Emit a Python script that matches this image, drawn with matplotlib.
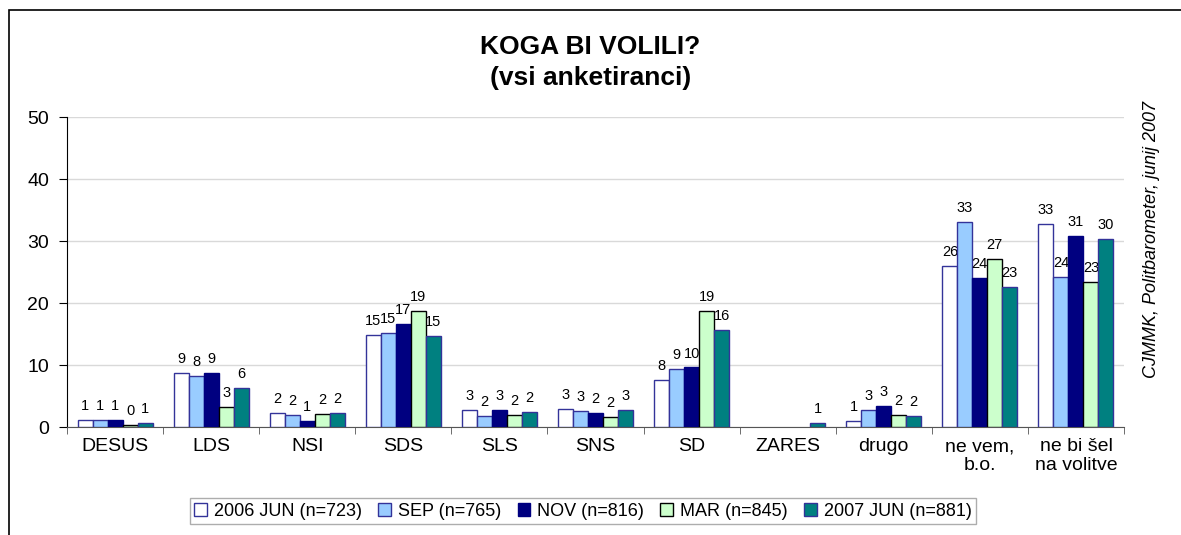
import numpy as np
import matplotlib.pyplot as plt
from matplotlib.patches import Rectangle

plt.rcParams['font.family'] = ['Liberation Sans', 'DejaVu Sans']

# Data
categories = ["DESUS", "LDS", "NSI", "SDS", "SLS", "SNS", "SD", "ZARES",
              "drugo", "ne vem,\nb.o.", "ne bi šel\nna volitve"]
series_names = ["2006 JUN (n=723)", "SEP (n=765)", "NOV (n=816)",
                "MAR (n=845)", "2007 JUN (n=881)"]
jun06 = [1.1, 8.7, 2.3, 14.8, 2.7, 2.9, 7.6, np.nan, 1.0, 26.0, 32.7]
sep06 = [1.1, 8.2, 1.9, 15.2, 1.8, 2.6, 9.3, np.nan, 2.7, 33.0, 24.2]
nov06 = [1.1, 8.7, 0.9, 16.6, 2.7, 2.2, 9.6, np.nan, 3.4, 24.1, 30.8]
mar07 = [0.4, 3.2, 2.1, 18.7, 2.0, 1.6, 18.7, np.nan, 2.0, 27.1, 23.4]
jun07 = [0.7, 6.3, 2.3, 14.7, 2.4, 2.7, 15.6, 0.7, 1.8, 22.6, 30.4]
all_series = [jun06, sep06, nov06, mar07, jun07]

face_colors = ["#FFFFFF", "#99CCFF", "#000080", "#CCFFCC", "#008080"]
edge_colors = ["#333399", "#333399", "#000080", "#000000", "#333399"]

fig = plt.figure(figsize=(11.81, 5.35), dpi=100)
ax = fig.add_axes([67 / 1181, 1 - 427 / 535, (1124 - 67) / 1181, 310 / 535])

# outer frame (cropped on right and bottom)
fig.patches.append(Rectangle((9 / 1181, -0.1), 1.2, 1 - 10 / 535 + 0.1,
                             transform=fig.transFigure, fill=False,
                             edgecolor="black", linewidth=1.2))

x = np.arange(len(categories))
bw = 0.156
for i, (vals, name) in enumerate(zip(all_series, series_names)):
    pos = x + (i - 2) * bw
    v = np.array(vals, dtype=float)
    ax.bar(pos, v, width=bw, color=face_colors[i],
           edgecolor=edge_colors[i], linewidth=1.0, label=name, zorder=3)
    for px, py in zip(pos, v):
        if not np.isnan(py):
            ax.annotate("%.0f" % py, (px, py), xytext=(0, 5),
                        textcoords="offset points", ha="center", va="bottom",
                        fontsize=10.5)

ax.set_ylim(0, 50)
ax.set_xlim(-0.5, len(categories) - 0.5)
ax.set_yticks(np.arange(0, 51, 10))
ax.yaxis.grid(True, color="#D9D9D9", linewidth=1.0, zorder=0)
ax.set_axisbelow(True)

ax.set_xticks(x)
ax.set_xticklabels(categories, fontsize=14, linespacing=1.15)
ax.set_xticks(np.arange(-0.5, len(categories), 1.0), minor=True)
ax.tick_params(axis="x", which="major", length=0, pad=8)
ax.tick_params(axis="x", which="minor", length=5, direction="out", color="#555555")
ax.tick_params(axis="y", length=6, direction="out", labelsize=14, pad=7)

for s in ["top", "right"]:
    ax.spines[s].set_visible(False)
ax.spines["left"].set_color("black")
ax.spines["bottom"].set_color("#555555")

fig.text(0.5, 1 - 47 / 535, "KOGA BI VOLILI?", ha="center", va="center",
         fontsize=19, fontweight="bold")
fig.text(0.5, 1 - 78 / 535, "(vsi anketiranci)", ha="center", va="center",
         fontsize=19, fontweight="bold")

fig.text(1152 / 1181, 1 - 240 / 535, "CJMMK, Politbarometer, junij 2007",
         rotation=90, ha="center", va="center", fontsize=13, style="italic")

leg = fig.legend(loc="center", bbox_to_anchor=(583 / 1181, 1 - 511 / 535),
                 ncol=5, fontsize=13, frameon=True, fancybox=False,
                 handlelength=0.7, handleheight=0.7, handletextpad=0.4,
                 columnspacing=0.9, borderpad=0.25, borderaxespad=0)
leg.get_frame().set_edgecolor("#999999")
leg.get_frame().set_linewidth(1.0)

fig.savefig("out.png", dpi=100)
